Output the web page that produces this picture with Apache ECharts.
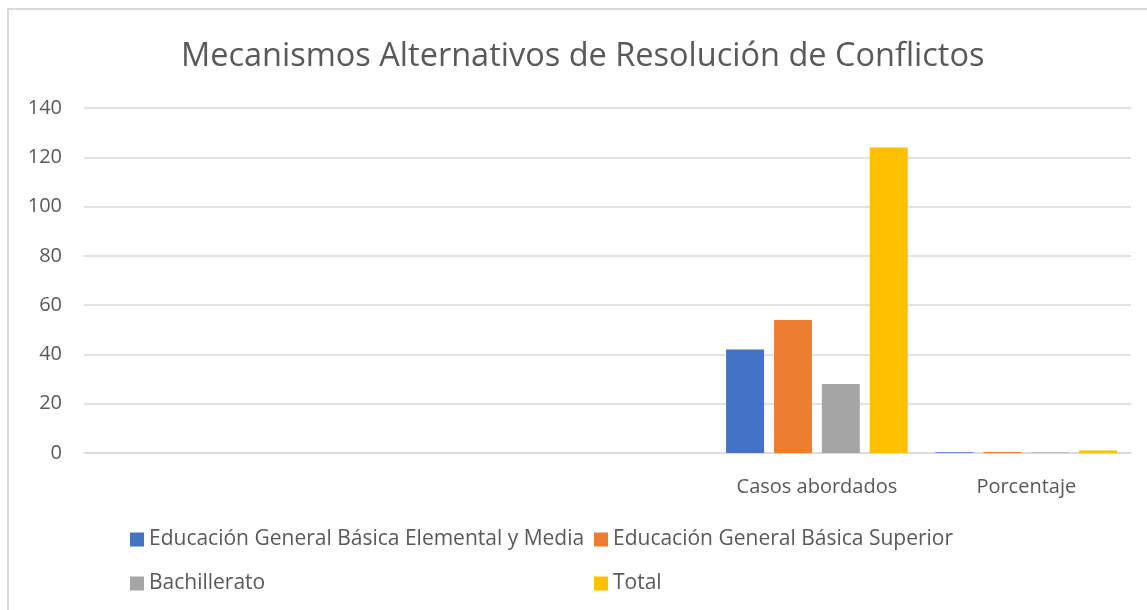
<!DOCTYPE html>
<html><head><meta charset="utf-8">
<script src="https://cdn.jsdelivr.net/npm/echarts@6/dist/echarts.min.js"></script>
<style>
html,body{margin:0;padding:0;background:#fff;}
#frame{position:absolute;left:7px;top:8px;width:1200px;height:700px;border:2px solid #d9d9d9;box-sizing:border-box;}
#c{position:absolute;left:0;top:0;width:1147px;height:610px;}
</style></head>
<body>
<div id="frame"></div>
<div id="c"></div>
<script>
const categories = ['', '', '', 'Casos abordados', 'Porcentaje'];
const seriesNames = ['Educación General Básica Elemental y Media', 'Educación General Básica Superior', 'Bachillerato', 'Total'];
const basicaElementalMedia = [null, null, null, 42, 0.34];
const basicaSuperior = [null, null, null, 54, 0.44];
const bachillerato = [null, null, null, 28, 0.23];
const total = [null, null, null, 124, 1];
const yTicks = [0, 20, 40, 60, 80, 100, 120, 140];
const colors = ['#4472c4', '#ed7d31', '#a5a5a5', '#ffc000'];

const FONT = 'Open Sans';
const values = [basicaElementalMedia, basicaSuperior, bachillerato, total];
const legendPos = [[125, 524], [589, 524], [125, 568], [589, 568]];

const chart = echarts.init(document.getElementById('c'), null, {renderer: 'canvas'});
chart.setOption({
  animation: false,
  backgroundColor: 'transparent',
  title: {
    text: 'Mecanismos Alternativos de Resolución de Conflictos',
    left: 176, top: 35,
    textStyle: {fontFamily: FONT, fontSize: 32.5, fontWeight: 'normal', color: '#595959'}
  },
  legend: seriesNames.map((n, i) => ({
    data: [n], left: legendPos[i][0], top: legendPos[i][1],
    itemWidth: 14, itemHeight: 14, itemGap: 0,
    icon: 'rect',
    textStyle: {fontFamily: FONT, fontSize: 21, color: '#595959', padding: [0, 0, 0, 0]}
  })),
  grid: {left: 84, right: 16, top: 108, bottom: 157, containLabel: false},
  xAxis: {
    type: 'category', data: categories,
    axisLine: {show: true, lineStyle: {color: '#d9d9d9', width: 1.5}},
    axisTick: {show: false},
    axisLabel: {fontFamily: FONT, fontSize: 20, color: '#595959', margin: 24, interval: 0}
  },
  yAxis: {
    type: 'value', min: 0, max: 140, interval: 20,
    axisLine: {show: false}, axisTick: {show: false},
    splitLine: {lineStyle: {color: '#d9d9d9', width: 1.5}},
    axisLabel: {fontFamily: FONT, fontSize: 20, color: '#595959', margin: 22,
      formatter: v => yTicks.includes(v) ? String(v) : ''}
  },
  series: seriesNames.map((n, i) => ({
    name: n, type: 'bar', data: values[i],
    barWidth: 38, barGap: '26%',
    itemStyle: {color: colors[i]}
  }))
});
</script>
</body></html>
